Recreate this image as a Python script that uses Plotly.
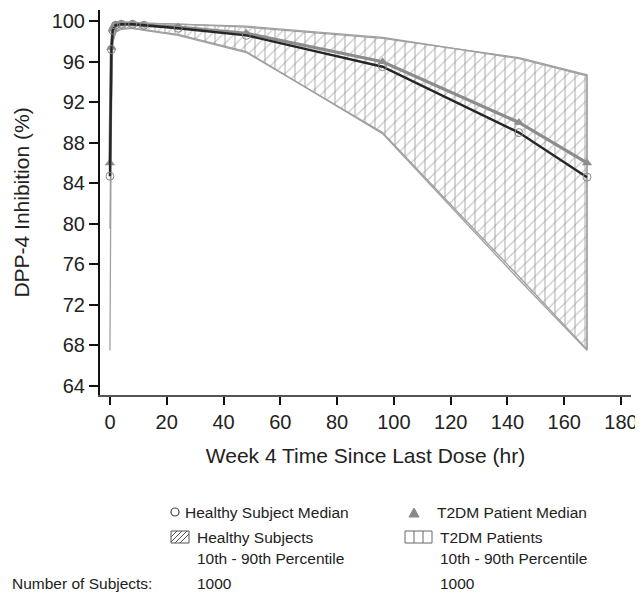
import plotly.graph_objects as go

# ---- data ----
time_hr = [0, 0.5, 1, 2, 4, 8, 12, 24, 48, 96, 144, 168]
healthy_median = [84.7, 97.2, 99.1, 99.6, 99.7, 99.7, 99.6, 99.3, 98.6, 95.5, 89.0, 84.6]
t2dm_median = [86.0, 97.4, 99.2, 99.6, 99.7, 99.7, 99.6, 99.4, 98.8, 96.0, 90.0, 86.0]
healthy_p90 = [99.0, 99.6, 99.8, 99.9, 99.9, 99.9, 99.8, 99.7, 99.4, 98.3, 96.4, 94.7]
healthy_p10 = [79.5, 93.0, 98.0, 99.0, 99.3, 99.3, 99.2, 98.7, 97.0, 88.9, 74.5, 67.5]
t2dm_p90 = [99.1, 99.6, 99.8, 99.9, 99.9, 99.9, 99.8, 99.7, 99.5, 98.4, 96.3, 94.6]
t2dm_p10 = [67.5, 92.0, 97.8, 98.9, 99.2, 99.3, 99.1, 98.6, 96.9, 89.0, 74.8, 67.6]
y_ticks = [64, 68, 72, 76, 80, 84, 88, 92, 96, 100]
x_ticks = [0, 20, 40, 60, 80, 100, 120, 140, 160, 180]

FONT = "Liberation Sans, Arial, sans-serif"
BAND_LINE = "#a0a0a0"
HATCH = "#8f8f8f"

fig = go.Figure()

def band(lower, upper, shape, size):
    xs = time_hr + time_hr[::-1]
    ys = upper + lower[::-1]
    fig.add_trace(go.Scatter(
        x=xs, y=ys, mode="lines", fill="toself",
        line=dict(color=BAND_LINE, width=1.3),
        fillcolor="rgba(0,0,0,0)",
        fillpattern=dict(shape=shape, fgcolor=HATCH, bgcolor="rgba(0,0,0,0)",
                         size=size, solidity=0.15),
        showlegend=False, hoverinfo="skip"))

band(healthy_p10, healthy_p90, "/", 8)
band(t2dm_p10, t2dm_p90, "|", 10)

fig.add_trace(go.Scatter(
    x=time_hr, y=t2dm_median, mode="lines+markers",
    line=dict(color="#8c8c8c", width=3.2),
    marker=dict(symbol="triangle-up", size=9, color="#8c8c8c"),
    showlegend=False))
fig.add_trace(go.Scatter(
    x=time_hr, y=healthy_median, mode="lines+markers",
    line=dict(color="#262626", width=2.4),
    marker=dict(symbol="circle-open", size=8, color="#8a8a8a", line=dict(width=1)),
    showlegend=False))

# page body has an 8px margin: size and margins compensate for it
OFF = 8
W, H = 643 - OFF, 593 - OFF
L, R, T, B = 92, 12, 2, 198

fig.update_layout(
    width=W, height=H,
    margin=dict(l=L, r=R, t=T, b=B),
    paper_bgcolor="white", plot_bgcolor="white",
    font=dict(family=FONT, color="#222222", size=20),
    xaxis=dict(range=[-3.5, 183.5], tickvals=x_ticks, showgrid=False, zeroline=False,
               showline=True, linecolor="#555555", linewidth=2,
               ticks="outside", ticklen=8, tickwidth=2, tickcolor="#111111",
               tickfont=dict(size=20),
               title=dict(text="Week 4 Time Since Last Dose (hr)", font=dict(size=21), standoff=16)),
    yaxis=dict(range=[63.1, 101.1], tickvals=y_ticks, showgrid=False, zeroline=False,
               showline=True, linecolor="#111111", linewidth=2,
               ticks="outside", ticklen=9, tickwidth=2, tickcolor="#111111",
               tickfont=dict(size=20),
               title=dict(text="DPP-4 Inhibition (%)", font=dict(size=21), standoff=16)),
)

pw, ph = W - L - R, H - T - B

def px(x):
    return (x - OFF - L) / pw

def py(y):
    return 1 - (y - OFF - T) / ph

LFS = 15.5
def label(x, y, text, anchor="left"):
    fig.add_annotation(x=px(x), y=py(y), xref="paper", yref="paper", text=text,
                       showarrow=False, xanchor=anchor, yanchor="middle",
                       font=dict(size=LFS, color="#222222"))

# row 1
label(183, 512, "Healthy Subject Median")
fig.add_shape(type="circle", xref="paper", yref="paper",
              x0=px(171), x1=px(179), y0=py(516), y1=py(508),
              line=dict(color="#444444", width=1.2))
label(435, 512, "T2DM Patient Median")
fig.add_shape(type="path", xref="paper", yref="paper",
              path=f"M {px(409)} {py(517)} L {px(419)} {py(517)} L {px(414)} {py(508)} Z",
              fillcolor="#888888", line=dict(color="#888888", width=1))

# rows 2 / 3
label(195, 537, "Healthy Subjects")
label(195, 558, "10th - 90th Percentile")
label(438, 537, "T2DM Patients")
label(438, 558, "10th - 90th Percentile")

# hatched legend boxes
bx0, bx1, by0, by1 = 171, 189, 531, 543
fig.add_shape(type="rect", xref="paper", yref="paper",
              x0=px(bx0), x1=px(bx1), y0=py(by1), y1=py(by0),
              line=dict(color="#555555", width=1))
for k in range(4):
    xa = bx0 + k * 5 - 6   # bottom-left start
    xb = xa + 12           # top-right end
    ya, yb = by1, by0
    if xa < bx0:
        ya = by1 - (bx0 - xa)
        xa = bx0
    if xb > bx1:
        yb = by0 + (xb - bx1)
        xb = bx1
    fig.add_shape(type="line", xref="paper", yref="paper",
                  x0=px(xa), y0=py(ya), x1=px(xb), y1=py(yb),
                  line=dict(color="#555555", width=1))
fig.add_shape(type="rect", xref="paper", yref="paper",
              x0=px(405), x1=px(432), y0=py(543), y1=py(531),
              line=dict(color="#666666", width=1))
for xv in (414, 423):
    fig.add_shape(type="line", xref="paper", yref="paper",
                  x0=px(xv), x1=px(xv), y0=py(543), y1=py(531),
                  line=dict(color="#666666", width=1))

# row 4
label(10, 583, "Number of Subjects:")
label(195, 583, "1000")
label(438, 583, "1000")

fig.write_html("out.html")
